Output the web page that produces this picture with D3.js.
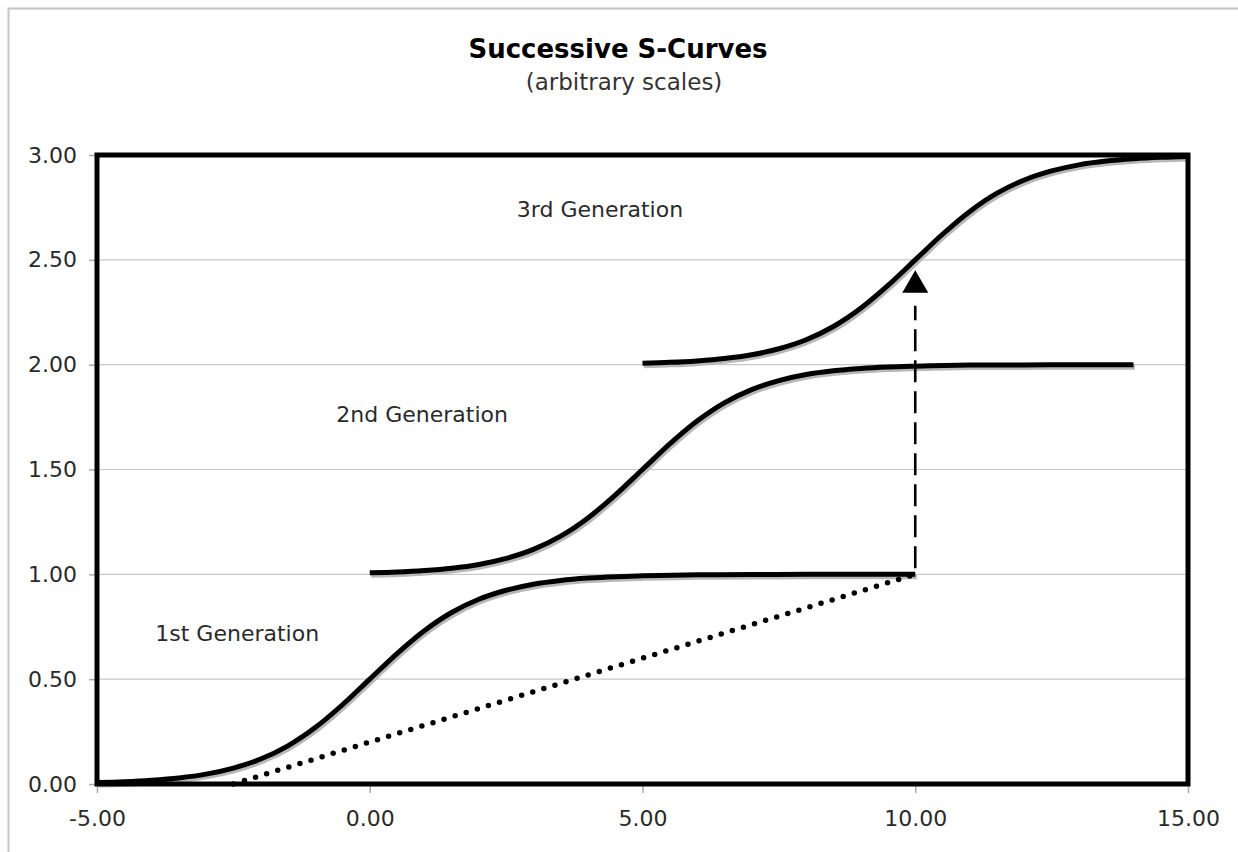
<!DOCTYPE html>
<html>
<head>
<meta charset="utf-8">
<script src="https://cdn.jsdelivr.net/npm/d3@7.9.0/dist/d3.min.js"></script>
<style>
  body { margin: 0; background: #fff; }
  svg text { font-family: "DejaVu Sans", Verdana, sans-serif; fill: #2a2a2a; }
</style>
</head>
<body>
<svg id="chart" width="1238" height="852"></svg>
<script>
// values
const gen1X = [-5, -4.5, -4, -3.5, -3, -2.5, -2, -1.5, -1, -0.5, 0, 0.5, 1, 1.5, 2, 2.5, 3, 3.5, 4, 4.5, 5, 6, 7, 8, 9, 10];
const gen1Y = [0.007, 0.011, 0.018, 0.029, 0.047, 0.076, 0.119, 0.182, 0.269, 0.378, 0.500, 0.622, 0.731, 0.818, 0.881, 0.924, 0.953, 0.971, 0.982, 0.989, 0.993, 0.998, 0.999, 1.000, 1.000, 1.000];

const gen2X = [0, 0.5, 1, 1.5, 2, 2.5, 3, 3.5, 4, 4.5, 5, 5.5, 6, 6.5, 7, 7.5, 8, 8.5, 9, 9.5, 10, 11, 12, 13, 14];
const gen2Y = [1.007, 1.011, 1.018, 1.029, 1.047, 1.076, 1.119, 1.182, 1.269, 1.378, 1.500, 1.622, 1.731, 1.818, 1.881, 1.924, 1.953, 1.971, 1.982, 1.989, 1.993, 1.998, 1.999, 2.000, 2.000];

const gen3X = [5, 5.5, 6, 6.5, 7, 7.5, 8, 8.5, 9, 9.5, 10, 10.5, 11, 11.5, 12, 12.5, 13, 13.5, 14, 14.5, 15];
const gen3Y = [2.007, 2.011, 2.018, 2.029, 2.047, 2.076, 2.119, 2.182, 2.269, 2.378, 2.500, 2.622, 2.731, 2.818, 2.881, 2.924, 2.953, 2.971, 2.982, 2.989, 2.993];

const dottedX = [-2.5, 10];
const dottedY = [0, 1];

const arrowX = 10;
const arrowFrom = 1.0;
const arrowBase = 2.30;
const arrowTip = 2.45;

const genLabels = ["1st Generation", "2nd Generation", "3rd Generation"];
const labelX = [-2.43, 0.96, 4.22];
const labelY = [0.68, 1.725, 2.705];

const xTicks = [-5, 0, 5, 10, 15];
const yTicks = [0, 0.5, 1, 1.5, 2, 2.5, 3];

const margin = { left: 97, right: 1188, top: 155, bottom: 784 };

let svg = d3.select("#chart");

// outer light frame (runs off the picture right and bottom)
svg.append("rect")
    .attr("x", 8.5).attr("y", 8.5)
    .attr("width", 1300).attr("height", 900)
    .attr("fill", "none")
    .attr("stroke", "#c4c4c4")
    .attr("stroke-width", 2);

let x = d3.scaleLinear().domain([-5, 15]).range([margin.left, margin.right]);
let y = d3.scaleLinear().domain([0, 3]).range([margin.bottom, margin.top]);

// title
svg.append("text")
    .attr("x", 618).attr("y", 58)
    .attr("text-anchor", "middle")
    .style("font-size", "26px")
    .style("font-weight", "bold")
    .style("fill", "#000")
    .text("Successive S-Curves");

svg.append("text")
    .attr("x", 624).attr("y", 90)
    .attr("text-anchor", "middle")
    .style("font-size", "23px")
    .style("fill", "#333")
    .text("(arbitrary scales)");

// gridlines
svg.append("g")
    .selectAll("line")
    .data(yTicks.slice(1, -1))
    .join("line")
    .attr("x1", margin.left).attr("x2", margin.right)
    .attr("y1", d => y(d)).attr("y2", d => y(d))
    .attr("stroke", "#c8c8c8")
    .attr("stroke-width", 1.2);

// axes
let fmt = d => d.toFixed(2);
let yAxis = d3.axisLeft(y).tickValues(yTicks).tickFormat(fmt).tickSize(7).tickPadding(12);
let xAxis = d3.axisBottom(x).tickValues(xTicks).tickFormat(fmt).tickSize(8).tickPadding(17);

let gy = svg.append("g").attr("transform", `translate(${margin.left - 1},0)`).call(yAxis);
let gx = svg.append("g").attr("transform", `translate(0,${margin.bottom + 1})`).call(xAxis);

[gx, gy].forEach(g => {
    g.select(".domain").remove();
    g.selectAll(".tick line").attr("stroke", "#aaa").attr("stroke-width", 1.5);
    g.selectAll(".tick text")
        .style("font-size", "22px")
        .style("fill", "#2a2a2a")
        .attr("font-family", "DejaVu Sans, Verdana, sans-serif");
});
gx.selectAll(".tick text").attr("dy", "0.71em");

// curves
let line = d3.line()
    .x(d => x(d[0]))
    .y(d => y(d[1]))
    .curve(d3.curveMonotoneX);

let series = [
    d3.zip(gen1X, gen1Y),
    d3.zip(gen2X, gen2Y),
    d3.zip(gen3X, gen3Y)
];

// soft grey shadow under each curve
svg.append("g")
    .attr("transform", "translate(1.5,2.5)")
    .selectAll("path")
    .data(series)
    .join("path")
    .attr("d", line)
    .attr("fill", "none")
    .attr("stroke", "#b8b8b8")
    .attr("stroke-width", 5);

svg.append("g")
    .selectAll("path")
    .data(series)
    .join("path")
    .attr("d", line)
    .attr("fill", "none")
    .attr("stroke", "#000")
    .attr("stroke-width", 5);

// dotted trend line
svg.append("path")
    .attr("d", d3.line().x(d => x(d[0])).y(d => y(d[1]))(d3.zip(dottedX, dottedY)))
    .attr("fill", "none")
    .attr("stroke", "#000")
    .attr("stroke-width", 5.5)
    .attr("stroke-linecap", "round")
    .attr("stroke-dasharray", "0 11.6");

// dashed jump with arrow head
svg.append("line")
    .attr("x1", x(arrowX)).attr("x2", x(arrowX))
    .attr("y1", y(arrowFrom) - 6).attr("y2", y(arrowBase) + 4)
    .attr("stroke", "#000")
    .attr("stroke-width", 2.6)
    .attr("stroke-dasharray", "22 9");

svg.append("path")
    .attr("d", `M${x(arrowX)},${y(arrowTip)} L${x(arrowX) + 13},${y(arrowBase) - 9} L${x(arrowX) - 13},${y(arrowBase) - 9} Z`)
    .attr("fill", "#000");

// plot frame
svg.append("rect")
    .attr("x", margin.left).attr("y", margin.top)
    .attr("width", margin.right - margin.left)
    .attr("height", margin.bottom - margin.top)
    .attr("fill", "none")
    .attr("stroke", "#000")
    .attr("stroke-width", 5);

// generation labels
svg.append("g")
    .selectAll("text")
    .data(genLabels)
    .join("text")
    .attr("x", (d, i) => x(labelX[i]))
    .attr("y", (d, i) => y(labelY[i]))
    .attr("text-anchor", "middle")
    .style("font-size", "22px")
    .text(d => d);
</script>
</body>
</html>
